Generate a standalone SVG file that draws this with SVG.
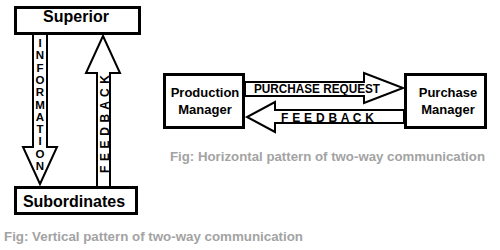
<svg xmlns="http://www.w3.org/2000/svg" width="500" height="250" viewBox="0 0 500 250">
<style>
.box{fill:#fff;stroke:#000;stroke-width:3}
.arr{fill:#fff;stroke:#000;stroke-width:2;stroke-linejoin:miter}
.t{font-family:"Liberation Sans",Arial,sans-serif;font-weight:bold;fill:#000}
.cap{font-family:"Liberation Sans",Arial,sans-serif;font-weight:bold;fill:#a3a3a3;font-size:12px}
</style>
<rect width="500" height="250" fill="#fff"/>
<g id="connectors">
  <g id="information-arrow">
    <polygon class="arr" points="33,34 47,34 47,147 57,147 40,184 23,147 33,147"/>
    <text class="t" font-size="11.5" text-anchor="middle">
      <tspan x="40" y="47">I</tspan><tspan x="40" y="59.3">N</tspan><tspan x="40" y="71.6">F</tspan><tspan x="40" y="83.9">O</tspan><tspan x="40" y="96.2">R</tspan><tspan x="40" y="108.5">M</tspan><tspan x="40" y="120.8">A</tspan><tspan x="40" y="133.1">T</tspan><tspan x="40" y="145.4">I</tspan><tspan x="40" y="157.7">O</tspan><tspan x="40" y="170">N</tspan>
    </text>
  </g>
  <g id="feedback-vertical-arrow">
    <polygon class="arr" points="97,187 110,187 110,73 120,73 103,36 86,73 97,73"/>
    <text class="t" font-size="12" transform="translate(108.5,173) rotate(-90)" textLength="98" lengthAdjust="spacing">F E E D B A C K</text>
  </g>
  <g id="purchase-request-arrow">
    <polygon class="arr" points="245,82 364,82 364,73 403,88 364,103 364,96 245,96"/>
    <text class="t" font-size="12" x="254" y="93" textLength="126" lengthAdjust="spacingAndGlyphs">PURCHASE REQUEST</text>
  </g>
  <g id="feedback-horizontal-arrow">
    <polygon class="arr" points="404,110 275,110 275,102 247,117 275,132 275,123 404,123"/>
    <text class="t" font-size="12" x="281" y="122" textLength="93" lengthAdjust="spacing">F E E D B A C K</text>
  </g>
</g>
<g id="superior">
  <rect class="box" x="15.5" y="7.5" width="124" height="26"/>
  <text class="t" font-size="16" x="76" y="22" text-anchor="middle">Superior</text>
</g>
<g id="subordinates">
  <rect class="box" x="15.5" y="187.5" width="121" height="26"/>
  <text class="t" font-size="16" x="74" y="207" text-anchor="middle">Subordinates</text>
</g>
<g id="production-manager">
  <rect class="box" x="164.5" y="74.5" width="79" height="53"/>
  <text class="t" font-size="13" x="205" y="97" text-anchor="middle">Production</text>
  <text class="t" font-size="13" x="205" y="114" text-anchor="middle">Manager</text>
</g>
<g id="purchase-manager">
  <rect class="box" x="405.5" y="74.5" width="80" height="53"/>
  <text class="t" font-size="13" x="448" y="97" text-anchor="middle">Purchase</text>
  <text class="t" font-size="13" x="448" y="114" text-anchor="middle">Manager</text>
</g>
<text class="cap" x="4" y="241" textLength="299" lengthAdjust="spacingAndGlyphs">Fig: Vertical pattern of two-way communication</text>
<text class="cap" x="170" y="161" textLength="315" lengthAdjust="spacingAndGlyphs">Fig: Horizontal pattern of two-way communication</text>
</svg>
